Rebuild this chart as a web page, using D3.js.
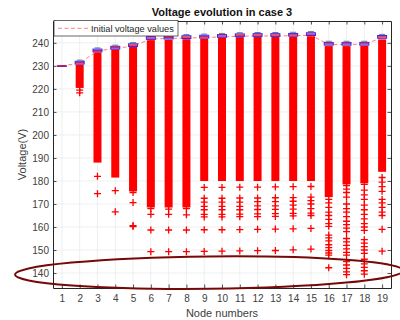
<!DOCTYPE html>
<html lang="en">
  <head>
    <meta charset="utf-8" />
    <title>Voltage evolution in case 3</title>
    <style>
      body { margin: 0; background: #fff; }
      svg { display: block; font-family: "Liberation Sans", Arial, sans-serif; }
    </style>
  </head>
  <body>
    <div id="graph-display"></div>

    <script src="https://d3js.org/d3.v7.min.js"></script>
    <script>
      // node numbers on the x axis
      const nodes = [1, 2, 3, 4, 5, 6, 7, 8, 9, 10, 11, 12, 13, 14, 15, 16, 17, 18, 19];
      const yTicks = [140, 150, 160, 170, 180, 190, 200, 210, 220, 230, 240];

      // dashed reference line
      const initialV = [230, 231.2, 236.5, 237.6, 238.6, 241.7, 241.9, 242.1, 242.3, 242.6, 242.9, 243.0, 243.0, 243.1, 243.3, 239.3, 239.3, 239.4, 242.2];

      // boxes (they are tiny, everything is squeezed near the top)
      const medianV = [230, 231.4, 236.7, 237.9, 239.0, 242.1, 242.3, 242.5, 242.7, 243.0, 243.3, 243.4, 243.4, 243.5, 243.8, 239.6, 239.6, 239.6, 242.6];
      const q1V = [230, 230.8, 236.1, 237.3, 238.4, 241.5, 241.7, 241.9, 242.1, 242.4, 242.7, 242.8, 242.8, 242.9, 243.2, 239.0, 239.0, 239.0, 242.0];
      const q3V = [230, 232.0, 237.3, 238.5, 239.6, 242.7, 242.9, 243.1, 243.3, 243.6, 243.9, 244.0, 244.0, 244.1, 244.4, 240.2, 240.2, 240.2, 243.2];
      const capV = [230, 232.5, 237.8, 239.0, 240.1, 243.2, 243.4, 243.6, 243.8, 244.1, 244.4, 244.5, 244.5, 244.6, 244.9, 240.7, 240.7, 240.7, 243.7];

      // outliers so packed that they read as one solid column: [top, bottom]
      const denseTop = [null, 230.6, 235.9, 237.2, 238.2, 241.2, 241.4, 241.6, 241.9, 242.2, 242.5, 242.6, 242.6, 242.7, 242.9, 238.6, 238.6, 238.7, 241.5];
      const denseBottom = [null, 222, 189.5, 183, 177, 170, 170, 170, 181.5, 181.5, 181.5, 181.5, 181.5, 181.5, 181.5, 174.5, 180, 180.5, 185.5];

      // single outliers below the solid part
      const outliers = [
        [],
        [220.8, 219.5, 218.3],
        [182, 174.5],
        [175.8, 166.6],
        [175, 170.6, 160.6, 160.2],
        [168, 165.5, 158.7, 149.3],
        [167.8, 165.5, 158.7, 149.3],
        [168, 165.3, 158.7, 149.3],
        [177.2, 172.5, 170.8, 169, 167.5, 165.5, 164.4, 158.8, 149.4],
        [177.2, 172.5, 170.8, 169, 167.5, 165.5, 164.4, 158.8, 149.5],
        [177.3, 172.6, 170.8, 169, 167.5, 165.6, 164.5, 158.9, 149.6],
        [177.3, 172.6, 171, 169.2, 167.6, 165.7, 164.5, 159, 149.7],
        [177.4, 172.7, 171, 169.2, 167.7, 165.8, 164.6, 159.1, 149.8],
        [177.5, 172.8, 171.2, 169.5, 167.8, 165.9, 164.8, 159.2, 150.1],
        [177.6, 173, 171.5, 170, 168, 166, 165, 159.4, 150.4],
        [172, 170.5, 168.5, 166.5, 165, 163.3, 161.5, 160.3, 156.5, 155.3, 154, 152.3, 151, 149.8, 148.7, 147.8, 142.3],
        [178, 176.5, 175, 173, 170, 168, 166.5, 164.5, 162.5, 161, 159.5, 158, 155, 153.5, 152, 150.5, 149, 147.8, 145, 143.5, 142, 140.5, 139.3],
        [178.5, 176, 174, 172, 169.5, 167.5, 165.5, 163.5, 161.5, 160, 158.5, 154.5, 153, 151.5, 150, 148.5, 146, 144, 142.5, 141, 139.5],
        [181.5, 179.5, 177.5, 175.5, 172, 170.5, 168.5, 166.5, 165, 159, 149.5]
      ];

      const initGraph = (width = 400, height = 320) => {
        const left = 53, right = 391, top = 21, bottom = 288;
        const axisColor = "#262626";

        const xScale = d3.scaleLinear().domain([0.5, 19.5]).range([left, right]);
        const yScale = d3.scaleLinear().domain([133.5, 249.5]).range([bottom, top]);

        const svg = d3
          .select("#graph-display")
          .append("svg")
          .attr("width", width)
          .attr("height", height);

        // grid
        const grid = svg.append("g").attr("stroke", "#e9ecec").attr("stroke-width", 0.8);
        grid.selectAll(".gx").data(nodes).enter().append("line")
          .attr("x1", (d) => xScale(d)).attr("x2", (d) => xScale(d))
          .attr("y1", top).attr("y2", bottom);
        grid.selectAll(".gy").data(yTicks).enter().append("line")
          .attr("y1", (d) => yScale(d)).attr("y2", (d) => yScale(d))
          .attr("x1", left).attr("x2", right);

        // dense outlier columns
        svg.append("g").selectAll("rect")
          .data(nodes.filter((n, i) => denseTop[i] !== null))
          .enter().append("rect")
          .attr("x", (d) => xScale(d) - 4)
          .attr("width", 8)
          .attr("y", (d) => yScale(denseTop[d - 1]))
          .attr("height", (d) => yScale(denseBottom[d - 1]) - yScale(denseTop[d - 1]) + 3.5)
          .attr("fill", "#ff0000");

        // single outliers as + markers
        const pts = [];
        nodes.forEach((n, i) => outliers[i].forEach((v) => pts.push([n, v])));
        svg.append("g").selectAll("path")
          .data(pts)
          .enter().append("path")
          .attr("transform", (d) => `translate(${xScale(d[0])},${yScale(d[1])})`)
          .attr("d", "M-3.5,0H3.5M0,-3.5V3.5")
          .attr("stroke", "#ff0000")
          .attr("stroke-width", 1.3)
          .attr("fill", "none");

        // initial values dashed line
        const line = d3.line().x((d, i) => xScale(nodes[i])).y((d) => yScale(d));
        svg.append("path")
          .datum(initialV)
          .attr("d", line)
          .attr("fill", "none")
          .attr("stroke", "#ff7070")
          .attr("stroke-width", 0.9)
          .attr("stroke-dasharray", "4,2.5");

        // boxes
        const boxes = svg.append("g");
        boxes.selectAll(".cap").data(nodes).enter().append("line")
          .attr("x1", (d) => xScale(d) - 3).attr("x2", (d) => xScale(d) + 3)
          .attr("y1", (d) => yScale(capV[d - 1])).attr("y2", (d) => yScale(capV[d - 1]))
          .attr("stroke", "#555").attr("stroke-width", 0.8);
        boxes.selectAll(".box").data(nodes).enter().append("rect")
          .attr("x", (d) => xScale(d) - 4.5)
          .attr("width", 9)
          .attr("y", (d) => yScale(q3V[d - 1]))
          .attr("height", (d) => Math.max(0.5, yScale(q1V[d - 1]) - yScale(q3V[d - 1])))
          .attr("fill", "#d9b3ff")
          .attr("stroke", "#2a2aff")
          .attr("stroke-width", 1);
        boxes.selectAll(".med").data(nodes).enter().append("line")
          .attr("x1", (d) => xScale(d) - 4.5).attr("x2", (d) => xScale(d) + 4.5)
          .attr("y1", (d) => yScale(medianV[d - 1])).attr("y2", (d) => yScale(medianV[d - 1]))
          .attr("stroke", "#ff0000").attr("stroke-width", 1);

        // axes, ticks pointing inward like matlab
        const styleAxis = (g) => {
          g.selectAll(".domain").attr("stroke", axisColor).attr("stroke-width", 1);
          g.selectAll(".tick line").attr("stroke", axisColor).attr("stroke-width", 0.8);
          g.selectAll("text").attr("fill", "#404040").style("font-size", "10px")
            .style("font-family", '"Liberation Sans", Arial, sans-serif');
        };
        svg.append("g").attr("transform", `translate(0,${bottom})`)
          .call(d3.axisBottom(xScale).tickValues(nodes).tickSizeInner(-3.5).tickSizeOuter(0).tickPadding(7))
          .call(styleAxis);
        svg.append("g").attr("transform", `translate(${left},0)`)
          .call(d3.axisLeft(yScale).tickValues(yTicks).tickSizeInner(-3.5).tickSizeOuter(0).tickPadding(4))
          .call(styleAxis);
        svg.append("g").attr("transform", `translate(0,${top})`)
          .call(d3.axisTop(xScale).tickValues(nodes).tickSizeInner(-3.5).tickSizeOuter(0).tickFormat(""))
          .call(styleAxis);
        svg.append("g").attr("transform", `translate(${right},0)`)
          .call(d3.axisRight(yScale).tickValues(yTicks).tickSizeInner(-3.5).tickSizeOuter(0).tickFormat(""))
          .call(styleAxis);

        // labels
        svg.append("text")
          .attr("x", (left + right) / 2).attr("y", 16)
          .attr("text-anchor", "middle")
          .style("font-size", "11px").style("font-weight", "bold").attr("fill", "#111")
          .text("Voltage evolution in case 3");
        svg.append("text")
          .attr("x", (left + right) / 2).attr("y", 317)
          .attr("text-anchor", "middle")
          .style("font-size", "11px").attr("fill", "#404040")
          .text("Node numbers");
        svg.append("text")
          .attr("transform", `translate(26,${(top + bottom) / 2}) rotate(-90)`)
          .attr("text-anchor", "middle")
          .style("font-size", "11px").attr("fill", "#404040")
          .text("Voltage(V)");

        // legend
        const legend = svg.append("g");
        legend.append("rect")
          .attr("x", 54).attr("y", 20.5).attr("width", 124).attr("height", 15.5)
          .attr("fill", "#fff").attr("stroke", axisColor).attr("stroke-width", 0.7);
        legend.append("line")
          .attr("x1", 58).attr("x2", 88).attr("y1", 28.3).attr("y2", 28.3)
          .attr("stroke", "#ff7070").attr("stroke-width", 0.9).attr("stroke-dasharray", "4,2.5");
        legend.append("text")
          .attr("x", 91).attr("y", 31.6)
          .style("font-size", "9.2px").attr("fill", "#262626")
          .text("Initial voltage values");

        // highlight ellipse around the lowest values
        svg.append("ellipse")
          .attr("cx", 209).attr("cy", 272.6).attr("rx", 194).attr("ry", 16.2)
          .attr("transform", "rotate(-0.6,209,272.6)")
          .attr("fill", "none")
          .attr("stroke", "#760808")
          .attr("stroke-width", 2);
      };

      window.addEventListener("DOMContentLoaded", function () {
        initGraph(400, 320);
      });
    </script>
  </body>
</html>
